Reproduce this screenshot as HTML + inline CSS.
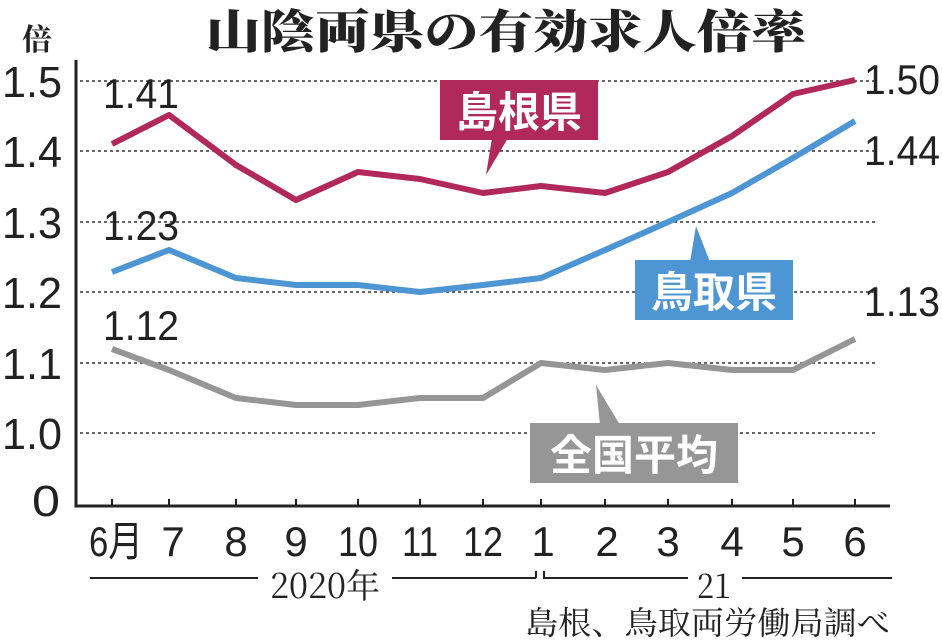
<!DOCTYPE html>
<html><head><meta charset="utf-8"><style>
html,body{margin:0;padding:0;background:#fff;}
svg{display:block;}
text{font-family:"Liberation Sans","Noto Sans CJK JP",sans-serif;}
.s{font-family:"Noto Serif CJK SC","Noto Sans CJK JP",serif;}
</style></head><body>
<svg width="942" height="641" viewBox="0 0 942 641" xmlns="http://www.w3.org/2000/svg">
<text x="206" y="48" class="s" font-size="46" font-weight="900" fill="#222" textLength="600" lengthAdjust="spacingAndGlyphs">山陰両県の有効求人倍率</text>
<text x="22" y="50" class="s" font-size="30" font-weight="bold" fill="#222">倍</text>
<g stroke="#333" stroke-width="1.5" stroke-dasharray="3,3">
<line x1="80" y1="81" x2="875" y2="81"/><line x1="80" y1="151" x2="875" y2="151"/>
<line x1="80" y1="222" x2="875" y2="222"/><line x1="80" y1="292" x2="875" y2="292"/>
<line x1="80" y1="363" x2="875" y2="363"/><line x1="80" y1="433" x2="875" y2="433"/>
</g>
<g font-size="44" fill="#222">
<text x="2" y="97" textLength="60" lengthAdjust="spacingAndGlyphs">1.5</text><text x="2" y="167" textLength="60" lengthAdjust="spacingAndGlyphs">1.4</text><text x="2" y="238" textLength="60" lengthAdjust="spacingAndGlyphs">1.3</text>
<text x="2" y="308" textLength="60" lengthAdjust="spacingAndGlyphs">1.2</text><text x="2" y="379" textLength="60" lengthAdjust="spacingAndGlyphs">1.1</text><text x="2" y="449" textLength="60" lengthAdjust="spacingAndGlyphs">1.0</text>
<text x="32" y="516" textLength="28" lengthAdjust="spacingAndGlyphs">0</text></g>
<polyline points="76,60 76,506 890,506" fill="none" stroke="#222" stroke-width="3"/>
<g stroke="#222" stroke-width="2">
<line x1="112" y1="499" x2="112" y2="506"/><line x1="169" y1="499" x2="169" y2="506"/><line x1="236" y1="499" x2="236" y2="506"/><line x1="296" y1="499" x2="296" y2="506"/><line x1="358" y1="499" x2="358" y2="506"/><line x1="420" y1="499" x2="420" y2="506"/><line x1="483" y1="499" x2="483" y2="506"/><line x1="541" y1="499" x2="541" y2="506"/><line x1="605" y1="499" x2="605" y2="506"/><line x1="668" y1="499" x2="668" y2="506"/><line x1="732" y1="499" x2="732" y2="506"/><line x1="793" y1="499" x2="793" y2="506"/><line x1="855" y1="499" x2="855" y2="506"/>
</g>
<g font-size="42" fill="#222" text-anchor="middle">
<text x="116" y="556" textLength="54" lengthAdjust="spacingAndGlyphs">6月</text><text x="173" y="556">7</text><text x="236" y="556">8</text><text x="296" y="556">9</text><text x="358" y="556" textLength="40" lengthAdjust="spacingAndGlyphs">10</text><text x="420" y="556" textLength="36" lengthAdjust="spacingAndGlyphs">11</text><text x="483" y="556" textLength="40" lengthAdjust="spacingAndGlyphs">12</text><text x="543" y="556">1</text><text x="607" y="556">2</text><text x="668" y="556">3</text><text x="732" y="556">4</text><text x="793" y="556">5</text><text x="855" y="556">6</text></g>
<g stroke="#222" stroke-width="2" fill="none">
<line x1="90" y1="578" x2="258" y2="578"/><line x1="392" y1="578" x2="536" y2="578"/><polyline points="536,578 536,571"/><polyline points="544,571 544,578 688,578"/><line x1="742" y1="578" x2="892" y2="578"/></g>
<text x="270" y="598" class="s" font-size="34" fill="#222" textLength="110" lengthAdjust="spacingAndGlyphs">2020年</text>
<text x="697" y="598" class="s" font-size="34" fill="#222" textLength="34" lengthAdjust="spacingAndGlyphs">21</text>
<text x="525" y="634" class="s" font-size="32" fill="#222" textLength="365" lengthAdjust="spacingAndGlyphs">島根、鳥取両労働局調べ</text>
<!-- series -->
<polyline fill="none" stroke="#b1285a" stroke-width="6" stroke-linejoin="round" points="112,144 169,115 236,165 296,200 358,172 420,179 483,193 541,186 605,193 668,172 732,136 793,94 855,80"/>
<polyline fill="none" stroke="#4e95d3" stroke-width="6" stroke-linejoin="round" points="112,272 169,250 236,278 296,285 358,285 420,292 483,285 541,278 605,250 668,222 732,193 793,158 855,121"/>
<polyline fill="none" stroke="#969696" stroke-width="6" stroke-linejoin="round" points="112,349 169,370 236,398 296,405 358,405 420,398 483,398 541,363 605,370 668,363 732,370 793,370 855,339"/>
<g font-size="42" fill="#222">
<text x="103" y="108" textLength="76" lengthAdjust="spacingAndGlyphs">1.41</text><text x="103" y="240" textLength="76" lengthAdjust="spacingAndGlyphs">1.23</text><text x="103" y="340" textLength="76" lengthAdjust="spacingAndGlyphs">1.12</text>
<text x="864" y="94" textLength="76" lengthAdjust="spacingAndGlyphs">1.50</text><text x="864" y="165" textLength="76" lengthAdjust="spacingAndGlyphs">1.44</text><text x="864" y="316" textLength="76" lengthAdjust="spacingAndGlyphs">1.13</text></g>
<rect x="440" y="80" width="158" height="60" fill="#b1285a"/>
<polygon points="492,138 508,138 486,175" fill="#b1285a"/>
<text x="519" y="127" font-size="42" font-weight="bold" fill="#fff" text-anchor="middle" font-family="Noto Sans CJK JP,sans-serif">島根県</text>
<rect x="635" y="260" width="158" height="60" fill="#4e95d3"/>
<polygon points="690,262 710,262 696,226" fill="#4e95d3"/>
<text x="714" y="307" font-size="42" font-weight="bold" fill="#fff" text-anchor="middle" font-family="Noto Sans CJK JP,sans-serif">鳥取県</text>
<rect x="530" y="423" width="208" height="60" fill="#969696"/>
<polygon points="600,425 620,425 596,385" fill="#969696"/>
<text x="634" y="470" font-size="42" font-weight="bold" fill="#fff" text-anchor="middle" font-family="Noto Sans CJK JP,sans-serif">全国平均</text>
</svg>
</body></html>
